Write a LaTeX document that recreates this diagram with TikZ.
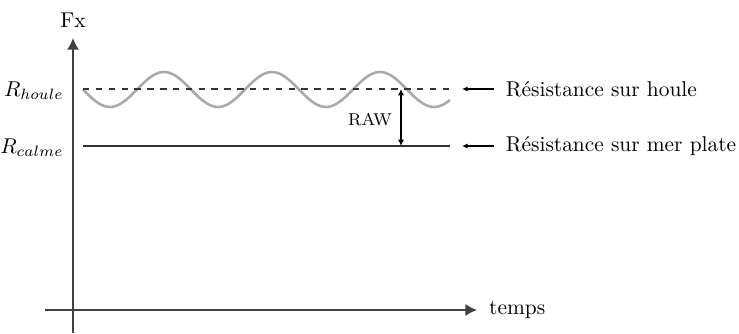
\documentclass[tikz,border=0pt]{standalone}
\usetikzlibrary{arrows.meta,positioning}
\definecolor{wavegray}{RGB}{172,170,162}

\begin{document}
\begin{tikzpicture}[x={(0.467pt,0)},y={(0,-0.467pt)},
  axis/.style={draw=black!75,line width=0.7pt,-{Latex[length=5.4pt,width=5.6pt]}},
  level/.style={draw=black!80,line width=0.6pt},
  pointer/.style={draw=black,line width=0.6pt,-{Latex[length=2.6pt,width=2.4pt]}},
  wave/.style={draw=wavegray,line width=1.2pt}]
  \useasboundingbox (0,0) rectangle (739,334);
  % axes
  \coordinate (ybot) at (73,333);
  \coordinate (ytop) at (73,38);
  \coordinate (xleft) at (45,310);
  \coordinate (xright) at (477,310);
  \draw[axis] (ybot) -- (ytop) node[above=1pt] (fx) {Fx};
  \draw[axis] (xleft) -- (xright) node[right=2pt] (temps) {temps};
  % levels
  \coordinate (h0) at (83,89);  \coordinate (h1) at (450,89);
  \coordinate (c0) at (83,146); \coordinate (c1) at (450,146);
  \node[anchor=east,inner sep=0pt] (rhoule) at (64,91) {$R_{houle}$};
  \node[anchor=east,inner sep=0pt] (rcalme) at (64,148) {$R_{calme}$};
  \draw[wave,domain=83:450,samples=120] plot (\x,{89.5+17.5*sin(2*pi*(\x-83)/108 r)});
  \draw[level,dashed] (h0) -- (h1);
  \draw[level] (c0) -- (c1);
  % RAW
  \coordinate (rawtop) at (401,89);
  \coordinate (rawbot) at (401,146);
  \draw[pointer,{Latex[length=3pt,width=3pt]}-{Latex[length=3pt,width=3pt]}] (rawtop) -- (rawbot);
  \node[font=\footnotesize] (raw) at (370,120) {RAW};
  % labels
  \coordinate (ph) at (494,89);  \coordinate (phtip) at (462,89);
  \coordinate (pc) at (494,146); \coordinate (pctip) at (462,146);
  \draw[pointer] (ph) -- (phtip);
  \draw[pointer] (pc) -- (pctip);
  \node[right=2pt] (houle) at (ph) {Résistance sur houle};
  \node[right=2pt] (plate) at (pc) {Résistance sur mer plate};
\end{tikzpicture}
\end{document}
